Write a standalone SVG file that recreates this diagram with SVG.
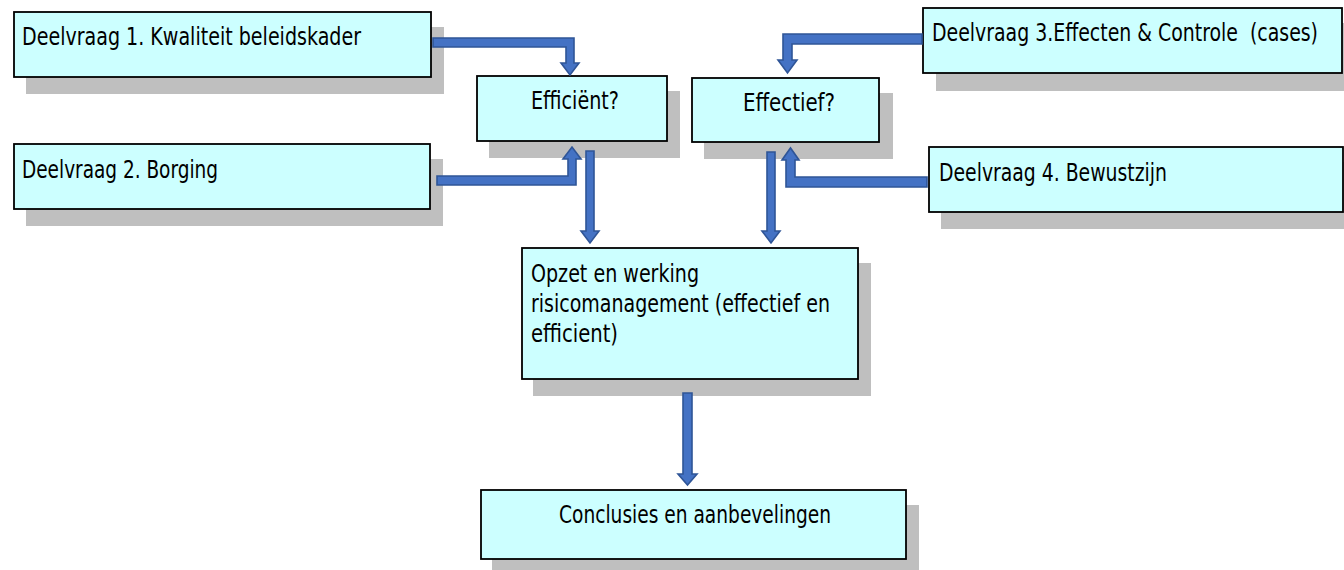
<svg xmlns="http://www.w3.org/2000/svg" width="1344" height="570" viewBox="0 0 1344 570">
<style>
.box{fill:#CCFFFF;stroke:#000;stroke-width:1.8}
.sh{fill:#BFBFBF}
.t{font-family:"DejaVu Sans Condensed","DejaVu Sans",sans-serif;font-stretch:condensed;font-size:25px;fill:#000;white-space:pre}
.arr{fill:#4472C4;stroke:#2F5597;stroke-width:1.6;stroke-linejoin:miter}
</style>
<rect width="1344" height="570" fill="#fff"/>
<g id="d1">
<rect class="sh" x="26" y="27" width="418" height="67"/>
<rect class="box" x="14" y="12" width="417" height="65"/>
<text class="t" x="22" y="45" textLength="339" lengthAdjust="spacingAndGlyphs">Deelvraag 1. Kwaliteit beleidskader</text>
</g>
<g id="d2">
<rect class="sh" x="26" y="159" width="417" height="67"/>
<rect class="box" x="14" y="144" width="416" height="65"/>
<text class="t" x="22" y="178" textLength="196" lengthAdjust="spacingAndGlyphs">Deelvraag 2. Borging</text>
</g>
<g id="d3">
<rect class="sh" x="936" y="23" width="420" height="68"/>
<rect class="box" x="923" y="8" width="419" height="65"/>
<text class="t" x="932" y="41" textLength="386" lengthAdjust="spacingAndGlyphs">Deelvraag 3.Effecten &amp; Controle  (cases)</text>
</g>
<g id="d4">
<rect class="sh" x="941" y="162" width="420" height="67"/>
<rect class="box" x="929" y="147" width="414" height="65"/>
<text class="t" x="939" y="181" textLength="228" lengthAdjust="spacingAndGlyphs">Deelvraag 4. Bewustzijn</text>
</g>
<g id="efficient">
<rect class="sh" x="489" y="91" width="191" height="67"/>
<rect class="box" x="477" y="76" width="190" height="65"/>
<text class="t" x="531" y="109" textLength="88" lengthAdjust="spacingAndGlyphs">Efficiënt?</text>
</g>
<g id="effectief">
<rect class="sh" x="704" y="93" width="189" height="66"/>
<rect class="box" x="692" y="78" width="187" height="64"/>
<text class="t" x="743" y="111" textLength="92" lengthAdjust="spacingAndGlyphs">Effectief?</text>
</g>
<g id="opzet">
<rect class="sh" x="533" y="263" width="338" height="133"/>
<rect class="box" x="522" y="248" width="336" height="131"/>
<text class="t" x="531" y="282" textLength="168" lengthAdjust="spacingAndGlyphs">Opzet en werking</text>
<text class="t" x="531" y="312" textLength="299" lengthAdjust="spacingAndGlyphs">risicomanagement (effectief en</text>
<text class="t" x="531" y="342" textLength="87" lengthAdjust="spacingAndGlyphs">efficient)</text>
</g>
<g id="conclusies">
<rect class="sh" x="492" y="505" width="427" height="71"/>
<rect class="box" x="481" y="490" width="425" height="69"/>
<text class="t" x="559" y="523" textLength="272" lengthAdjust="spacingAndGlyphs">Conclusies en aanbevelingen</text>
</g>
<g id="connectors">
<path class="arr" d="M433,38 H574 V63 H579 L570,75 L561,63 H566 V47 H433 Z"/>
<path class="arr" d="M437,176 H568 V159 H563 L572,147 L581,159 H576 V185 H437 Z"/>
<path class="arr" d="M586,151 H594 V231 H599 L590,243 L581,231 H586 Z"/>
<path class="arr" d="M767,152 H775 V231 H780 L771,243 L762,231 H767 Z"/>
<path class="arr" d="M922,34 H783 V60 H778 L787.5,73 L797,60 H792 V44 H922 Z"/>
<path class="arr" d="M927,177 H795 V160 H799 L790.5,148 L782,160 H786 V187 H927 Z"/>
<path class="arr" d="M683,393 H692 V474 H697 L687.5,485 L678,474 H683 Z"/>
</g>
</svg>
